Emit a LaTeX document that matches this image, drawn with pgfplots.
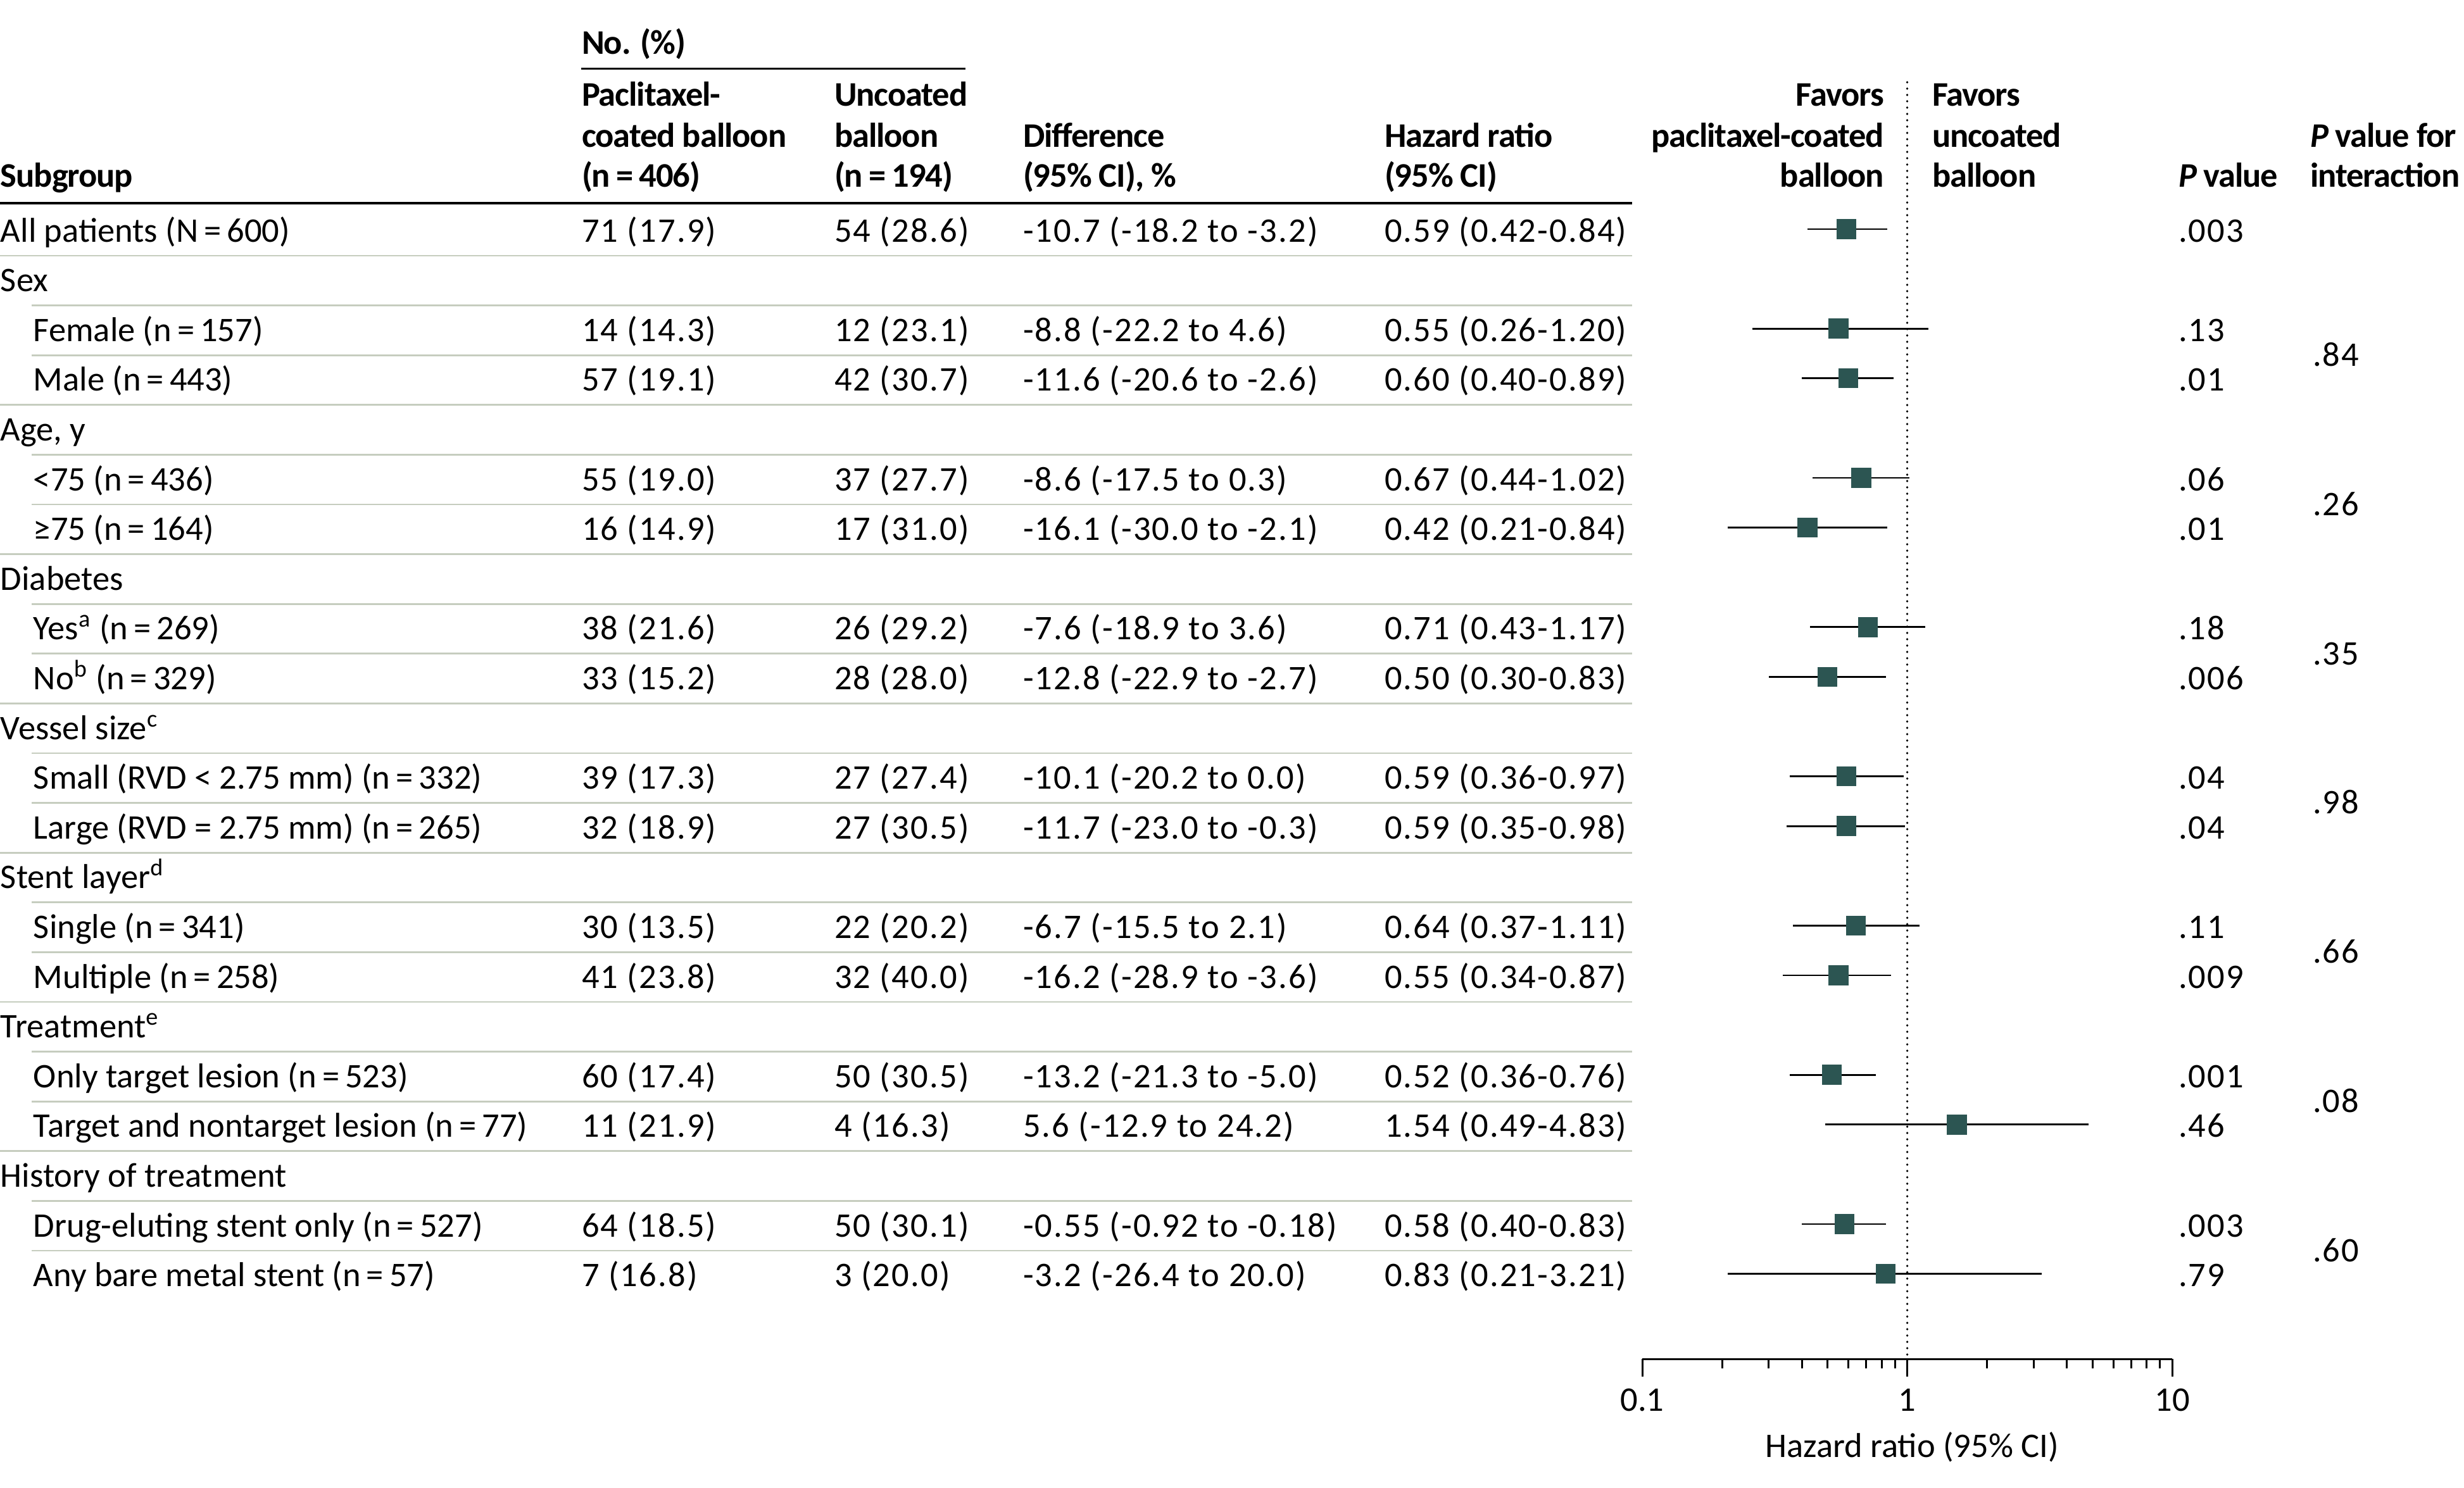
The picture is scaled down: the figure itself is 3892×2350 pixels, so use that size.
\documentclass[border=0pt]{standalone}
\usepackage{pgfplots}
\usepackage{pgfplotstable}
\pgfplotsset{compat=1.18}
\usepackage{fontspec}
\setmainfont{Carlito}
\definecolor{mk}{HTML}{2C5552}
\definecolor{sepc}{HTML}{C6CDBF}

\pgfplotstableread{
row hr lo hi
0 0.59 0.42 0.84
-2 0.55 0.26 1.20
-3 0.60 0.40 0.89
-5 0.67 0.44 1.02
-6 0.42 0.21 0.84
-8 0.71 0.43 1.17
-9 0.50 0.30 0.83
-11 0.59 0.36 0.97
-12 0.59 0.35 0.98
-14 0.64 0.37 1.11
-15 0.55 0.34 0.87
-17 0.52 0.36 0.76
-18 1.54 0.49 4.83
-20 0.58 0.40 0.83
-21 0.83 0.21 3.21
}\hrdata

\newcommand\num[1]{{\addfontfeatures{LetterSpace=4}#1}}
\newcommand\rw[8]{%
 \node at (#2,{-(382+78.6*#1)}) {#3};
 \node at (918,{-(382+78.6*#1)}) {\num{#4}};
 \node at (1317,{-(382+78.6*#1)}) {\num{#5}};
 \node at (1615,{-(382+78.6*#1)}) {\num{#6}};
 \node at (2186,{-(382+78.6*#1)}) {\num{#7}};
 \node at (3440,{-(382+78.6*#1)}) {\num{#8}};}
\newcommand\grp[2]{\node at (0,{-(382+78.6*#1)}) {#2};}
\newcommand\inter[2]{\node at (3652,{-(382+78.6*(#1+0.5))}) {\num{#2}};}
\newcommand\eq{\,=\,}

\begin{document}
\begin{tikzpicture}[font=\fontsize{10.9pt}{13pt}\selectfont]
\begin{scope}[x=0.2pt,y=0.2pt,every node/.style={inner sep=0pt, anchor=base west}]
\useasboundingbox (0,0) rectangle (3892,-2350);
% header
\begin{scope}[font=\fontsize{10.9pt}{13pt}\selectfont\bfseries\addfontfeatures{LetterSpace=-2}]
\node at (918,-85) {No. (\%)};
\node at (0,-295) {Subgroup};
\node at (918,-167) {Paclitaxel-};
\node at (918,-232) {coated balloon};
\node at (918,-295) {(n\eq 406)};
\node at (1317,-167) {Uncoated};
\node at (1317,-232) {balloon};
\node at (1317,-295) {(n\eq 194)};
\node at (1615,-232) {Difference};
\node at (1615,-295) {(95\% CI), \%};
\node at (2186,-232) {Hazard ratio};
\node at (2186,-295) {(95\% CI)};
\node[anchor=base east] at (2977,-167) {Favors};
\node[anchor=base east] at (2977,-232) {paclitaxel-coated};
\node[anchor=base east] at (2977,-295) {balloon};
\node at (3051,-167) {Favors};
\node at (3051,-232) {uncoated};
\node at (3051,-295) {balloon};
\node at (3440,-295) {\textit{P} value};
\node at (3648,-232) {\textit{P} value for};
\node at (3648,-295) {interaction};
\end{scope}
\draw[black, line width=0.6pt] (918,-108) -- (1525,-108);
\draw[black, line width=0.85pt] (0,-321) -- (2578,-321);

% separators
\foreach \i/\xs in {0/0,1/50,2/50,3/0,4/50,5/50,6/0,7/50,8/50,9/0,10/50,11/50,12/0,13/50,14/50,15/0,16/50,17/50,18/0,19/50,20/50}
  \draw[sepc, line width=0.55pt] (\xs,{-(404+78.6*\i)}) -- (2578,{-(404+78.6*\i)});

% rows
\rw{0}{0}{All patients (N\eq 600)}{71 (17.9)}{54 (28.6)}{-10.7 (-18.2 to -3.2)}{0.59 (0.42-0.84)}{.003}
\grp{1}{Sex}
\rw{2}{52}{Female (n\eq 157)}{14 (14.3)}{12 (23.1)}{-8.8 (-22.2 to 4.6)}{0.55 (0.26-1.20)}{.13}
\rw{3}{52}{Male (n\eq 443)}{57 (19.1)}{42 (30.7)}{-11.6 (-20.6 to -2.6)}{0.60 (0.40-0.89)}{.01}
\inter{2}{.84}
\grp{4}{Age, y}
\rw{5}{52}{<75 (n\eq 436)}{55 (19.0)}{37 (27.7)}{-8.6 (-17.5 to 0.3)}{0.67 (0.44-1.02)}{.06}
\rw{6}{52}{≥75 (n\eq 164)}{16 (14.9)}{17 (31.0)}{-16.1 (-30.0 to -2.1)}{0.42 (0.21-0.84)}{.01}
\inter{5}{.26}
\grp{7}{Diabetes}
\rw{8}{52}{Yes\textsuperscript{a} (n\eq 269)}{38 (21.6)}{26 (29.2)}{-7.6 (-18.9 to 3.6)}{0.71 (0.43-1.17)}{.18}
\rw{9}{52}{No\textsuperscript{b} (n\eq 329)}{33 (15.2)}{28 (28.0)}{-12.8 (-22.9 to -2.7)}{0.50 (0.30-0.83)}{.006}
\inter{8}{.35}
\grp{10}{Vessel size\textsuperscript{c}}
\rw{11}{52}{Small (RVD < 2.75 mm) (n\eq 332)}{39 (17.3)}{27 (27.4)}{-10.1 (-20.2 to 0.0)}{0.59 (0.36-0.97)}{.04}
\rw{12}{52}{Large (RVD = 2.75 mm) (n\eq 265)}{32 (18.9)}{27 (30.5)}{-11.7 (-23.0 to -0.3)}{0.59 (0.35-0.98)}{.04}
\inter{11}{.98}
\grp{13}{Stent layer\textsuperscript{d}}
\rw{14}{52}{Single (n\eq 341)}{30 (13.5)}{22 (20.2)}{-6.7 (-15.5 to 2.1)}{0.64 (0.37-1.11)}{.11}
\rw{15}{52}{Multiple (n\eq 258)}{41 (23.8)}{32 (40.0)}{-16.2 (-28.9 to -3.6)}{0.55 (0.34-0.87)}{.009}
\inter{14}{.66}
\grp{16}{Treatment\textsuperscript{e}}
\rw{17}{52}{Only target lesion (n\eq 523)}{60 (17.4)}{50 (30.5)}{-13.2 (-21.3 to -5.0)}{0.52 (0.36-0.76)}{.001}
\rw{18}{52}{Target and nontarget lesion (n\eq 77)}{11 (21.9)}{4 (16.3)}{5.6 (-12.9 to 24.2)}{1.54 (0.49-4.83)}{.46}
\inter{17}{.08}
\grp{19}{History of treatment}
\rw{20}{52}{Drug-eluting stent only (n\eq 527)}{64 (18.5)}{50 (30.1)}{-0.55 (-0.92 to -0.18)}{0.58 (0.40-0.83)}{.003}
\rw{21}{52}{Any bare metal stent (n\eq 57)}{7 (16.8)}{3 (20.0)}{-3.2 (-26.4 to 20.0)}{0.83 (0.21-3.21)}{.79}
\inter{20}{.60}

\node[anchor=base] at (3020,-2302) {Hazard ratio (95\% CI)};
\end{scope}

\begin{axis}[
  at={(518.8pt,-429.4pt)}, anchor=south west,
  scale only axis, width=167.4pt, height=403.4pt,
  xmode=log, log basis x=10, xmin=0.1, xmax=10,
  ymin=-22.71, ymax=2.95,
  axis x line*=bottom, axis y line=none,
  ytick=\empty,
  xtick={0.1,1,10},
  xticklabels={\textnormal{0.1},\textnormal{1},\textnormal{10}},
  minor xtick={0.2,0.3,0.4,0.5,0.6,0.7,0.8,0.9,2,3,4,5,6,7,8,9},
  tick align=outside,
  major tick length=5.6pt, minor tick length=3pt,
  every tick/.append style={black, line width=0.6pt},
  axis line style={black, line width=0.6pt},
  xticklabel style={font=\fontsize{10.9pt}{13pt}\selectfont, anchor=north, inner sep=0pt, yshift=-3.6pt},
  clip=false,
]
\addplot[black, line width=0.75pt, line cap=round, dash pattern=on 0pt off 2pt] coordinates {(1,2.95) (1,-22.71)};
\addplot[only marks, mark=none,
  error bars/.cd, x dir=both, x explicit, error mark=none,
  error bar style={draw=black, line width=0.55pt}]
  table[x=hr, y=row, x error plus expr=\thisrow{hi}-\thisrow{hr}, x error minus expr=\thisrow{hr}-\thisrow{lo}] {\hrdata};
\addplot[only marks, mark=square*, mark size=3pt, mark options={fill=mk, draw=mk, line width=0.3pt}]
  table[x=hr, y=row] {\hrdata};
\end{axis}
\end{tikzpicture}
\end{document}
